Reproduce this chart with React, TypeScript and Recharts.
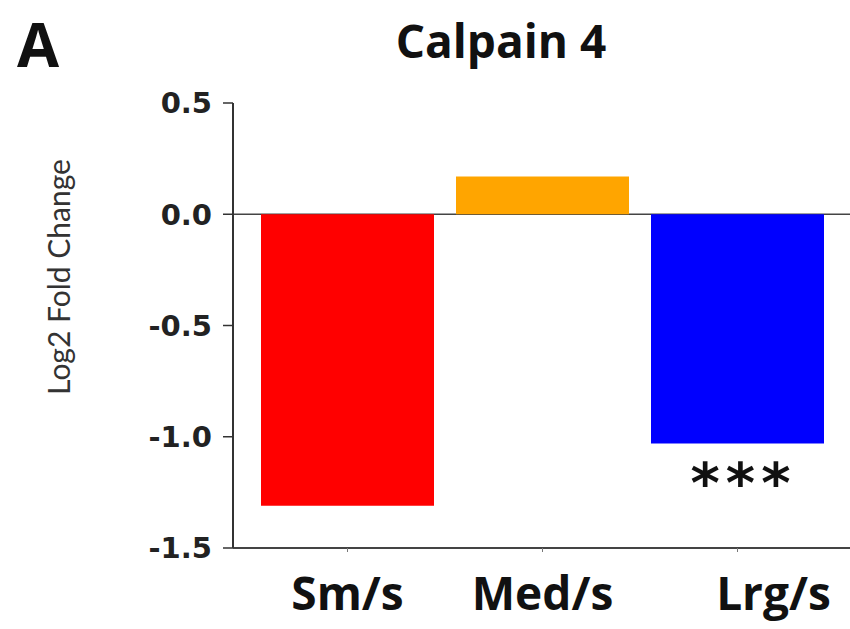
import React from "react";
import { BarChart, Bar, XAxis, YAxis, CartesianGrid, Cell, LabelList } from "recharts";

const categories = ["Sm/s", "Med/s", "Lrg/s"];
const values = [-1.31, 0.17, -1.03];
const significance = ["", "", "***"];
const colors = ["#FF0000", "#FFA500", "#0000FF"];
const yTicks = [0.5, 0, -0.5, -1, -1.5];
const labelShift = [0, 0, 36];

const data = categories.map((c, i) => ({ name: c, value: values[i], sig: significance[i] }));

const XTick = (props: any) => {
  const { x, y, payload, index } = props;
  return (
    <text
      x={x + (labelShift[index] || 0)}
      y={y}
      dy={56}
      textAnchor="middle"
      fontFamily="'Open Sans'"
      fontWeight={700}
      fontSize={46}
      fill="#111"
    >
      {payload.value}
    </text>
  );
};

const StarLabel = (props: any) => {
  const { x, y, width, height, value } = props;
  if (!value) return null;
  const bottom = Math.max(y, y + height);
  return (
    <text
      x={x + width / 2 + 6}
      y={bottom + 59}
      textAnchor="middle"
      fontFamily="'DejaVu Sans'"
      fontWeight={700}
      fontSize={56}
      letterSpacing={6}
      fill="#111"
    >
      {value}
    </text>
  );
};

export default function App() {
  return (
    <div style={{ position: "absolute", left: 0, top: 0, width: 850, height: 629, background: "#fff" }}>
      <BarChart
        width={850}
        height={629}
        data={data}
        margin={{ top: 103, right: 0, bottom: 0, left: 0 }}
        barCategoryGap={11}
      >
        <CartesianGrid vertical={false} horizontalValues={[0]} stroke="#444" strokeWidth={1.5} strokeDasharray="" />
        <XAxis
          dataKey="name"
          height={81}
          padding={{ left: 17, right: 15 }}
          axisLine={{ stroke: "#444", strokeWidth: 2 }}
          tickLine={{ stroke: "#777" }}
          tickSize={4}
          tickMargin={2}
          tick={<XTick />}
          interval={0}
        />
        <YAxis
          width={233}
          domain={[-1.5, 0.5]}
          ticks={yTicks}
          interval={0}
          tickFormatter={(v: number) => v.toFixed(1)}
          axisLine={{ stroke: "#333", strokeWidth: 2 }}
          tickLine={{ stroke: "#333", strokeWidth: 1.5 }}
          tickSize={10}
          tickMargin={11}
          tick={{ fontFamily: "'DejaVu Sans'", fontWeight: 700, fontSize: 29, fill: "#222" }}
        />
        <Bar dataKey="value" isAnimationActive={false}>
          {data.map((d, i) => (
            <Cell key={d.name} fill={colors[i]} />
          ))}
          <LabelList dataKey="sig" content={<StarLabel />} />
        </Bar>
      </BarChart>
      <svg width={850} height={629} style={{ position: "absolute", left: 0, top: 0, pointerEvents: "none" }}>
        <text x={17} y={67} fontFamily="'Open Sans'" fontWeight={700} fontSize={61} fill="#111">A</text>
        <text x={501} y={58} textAnchor="middle" fontFamily="'Open Sans'" fontWeight={700} fontSize={46} fill="#111">Calpain 4</text>
        <text
          transform="translate(70,277) rotate(-90)"
          textAnchor="middle"
          fontFamily="Lato"
          fontSize={30}
          fill="#333"
        >
          Log2 Fold Change
        </text>
      </svg>
    </div>
  );
}
